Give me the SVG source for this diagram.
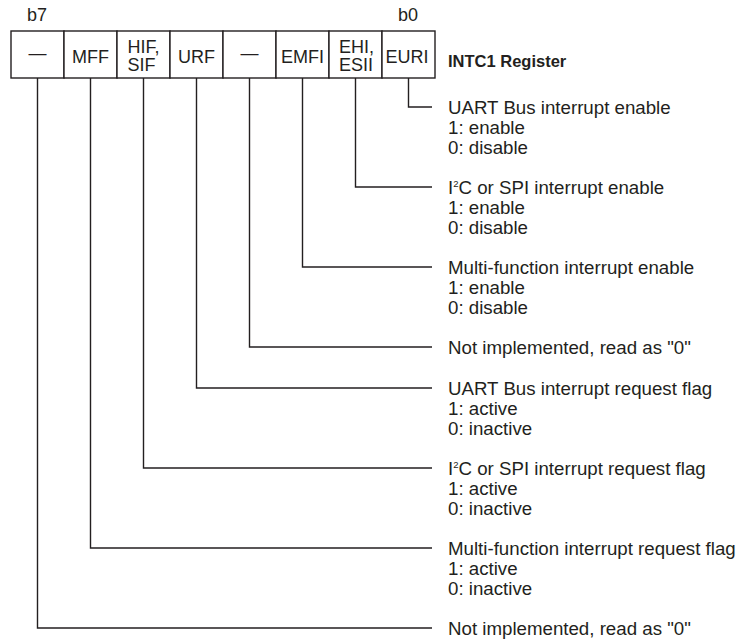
<svg xmlns="http://www.w3.org/2000/svg" width="738" height="643" viewBox="0 0 738 643">
<style>
text{font-family:"Liberation Sans",Arial,sans-serif;font-size:18px;fill:#231f20}
.d{font-size:18.7px}
.c{text-anchor:middle}
.b{font-weight:bold;font-size:16.5px}
.cell{fill:#fff;stroke:#231f20;stroke-width:1.4}
.ln{fill:none;stroke:#231f20;stroke-width:1.4}
.sup{font-size:9.5px}
</style>
<rect width="738" height="643" fill="#fff"/>
<g id="register">
<text class="c" x="37" y="21">b7</text>
<text class="c" x="408" y="21">b0</text>
<rect class="cell" x="11" y="31" width="53" height="47"/>
<rect class="cell" x="64" y="31" width="53" height="47"/>
<rect class="cell" x="117" y="31" width="53" height="47"/>
<rect class="cell" x="170" y="31" width="53" height="47"/>
<rect class="cell" x="223" y="31" width="53" height="47"/>
<rect class="cell" x="276" y="31" width="53" height="47"/>
<rect class="cell" x="329" y="31" width="53" height="47"/>
<rect class="cell" x="382" y="31" width="53" height="47"/>
<text class="c" x="37.5" y="59">—</text>
<text class="c" x="90.5" y="63">MFF</text>
<text x="127.5" y="52.5">HIF,</text>
<text x="127.5" y="71">SIF</text>
<text class="c" x="196.5" y="63">URF</text>
<text class="c" x="249.5" y="59">—</text>
<text class="c" x="302.5" y="63">EMFI</text>
<text x="339" y="52.5">EHI,</text>
<text x="339" y="71">ESII</text>
<text class="c" x="407" y="63">EURI</text>
<text class="b" x="448" y="67">INTC1 Register</text>
</g>
<g id="connectors">
<polyline class="ln" points="408.5,78 408.5,107 432,107"/>
<polyline class="ln" points="355.5,78 355.5,187 432,187"/>
<polyline class="ln" points="302.5,78 302.5,267 432,267"/>
<polyline class="ln" points="249.5,78 249.5,347 432,347"/>
<polyline class="ln" points="196.5,78 196.5,388 432,388"/>
<polyline class="ln" points="143.5,78 143.5,468 432,468"/>
<polyline class="ln" points="90.5,78 90.5,548 432,548"/>
<polyline class="ln" points="37.5,78 37.5,628 432,628"/>
</g>
<g id="desc-b0" class="d">
<text class="d" x="448" y="114">UART Bus interrupt enable</text>
<text class="d" x="448" y="134">1: enable</text>
<text class="d" x="448" y="154">0: disable</text>
</g>
<g id="desc-b1">
<text class="d" x="448" y="194">I<tspan class="sup" dy="-7">2</tspan><tspan dy="7">C or SPI interrupt enable</tspan></text>
<text class="d" x="448" y="214">1: enable</text>
<text class="d" x="448" y="234">0: disable</text>
</g>
<g id="desc-b2">
<text class="d" x="448" y="274">Multi-function interrupt enable</text>
<text class="d" x="448" y="294">1: enable</text>
<text class="d" x="448" y="314">0: disable</text>
</g>
<g id="desc-b3">
<text class="d" x="448" y="354">Not implemented, read as "0"</text>
</g>
<g id="desc-b4">
<text class="d" x="448" y="395">UART Bus interrupt request flag</text>
<text class="d" x="448" y="415">1: active</text>
<text class="d" x="448" y="435">0: inactive</text>
</g>
<g id="desc-b5">
<text class="d" x="448" y="475">I<tspan class="sup" dy="-7">2</tspan><tspan dy="7">C or SPI interrupt request flag</tspan></text>
<text class="d" x="448" y="495">1: active</text>
<text class="d" x="448" y="515">0: inactive</text>
</g>
<g id="desc-b6">
<text class="d" x="448" y="555">Multi-function interrupt request flag</text>
<text class="d" x="448" y="575">1: active</text>
<text class="d" x="448" y="595">0: inactive</text>
</g>
<g id="desc-b7">
<text class="d" x="448" y="635">Not implemented, read as "0"</text>
</g>
</svg>
